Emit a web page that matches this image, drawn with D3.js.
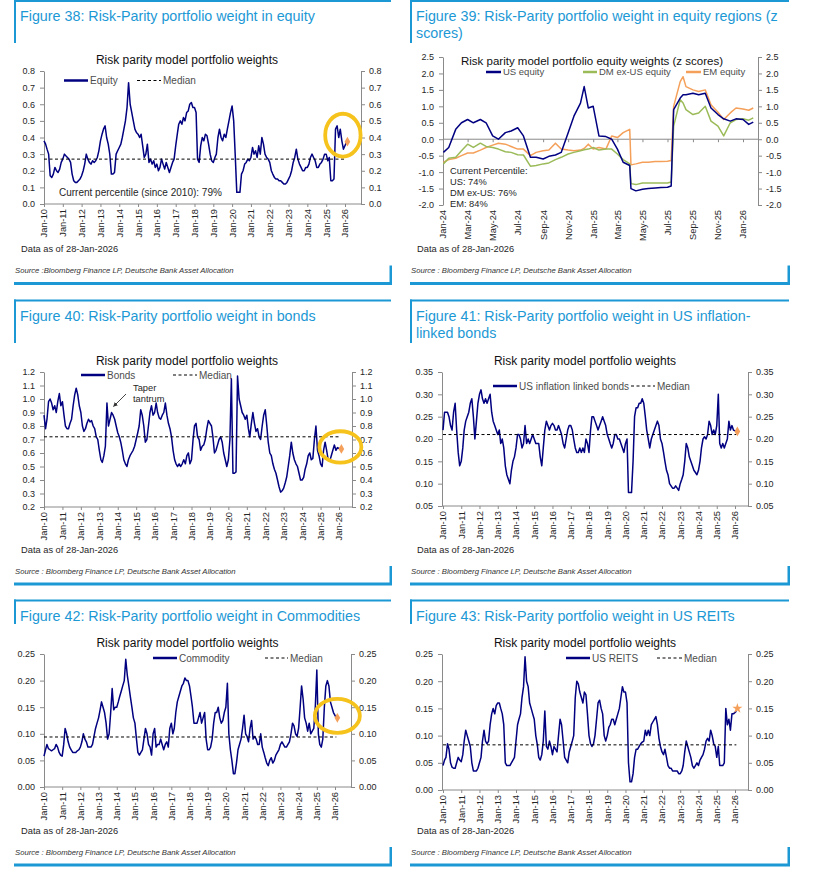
<!DOCTYPE html>
<html><head><meta charset="utf-8">
<script src="https://cdn.jsdelivr.net/npm/d3@7"></script>
<style>
body{margin:0;background:#fff;}
svg{display:block;font-family:"Liberation Sans",Arial,Helvetica,sans-serif;}
</style></head><body>
<script>
// ---------------- DATA ----------------
// Monthly readings Jan-2010 .. Dec-2025, then 28-Jan-2026
const equity = [
0.38,0.36,0.33,0.30,0.17,0.16,0.18,0.22,0.20,0.19,0.21,0.25,
0.27,0.30,0.29,0.28,0.27,0.25,0.18,0.14,0.13,0.13,0.14,0.15,
0.17,0.20,0.24,0.30,0.27,0.25,0.24,0.26,0.25,0.26,0.28,0.32,
0.38,0.42,0.45,0.47,0.40,0.36,0.30,0.18,0.18,0.19,0.30,0.32,
0.34,0.36,0.40,0.45,0.50,0.58,0.73,0.60,0.55,0.50,0.45,0.43,
0.42,0.40,0.42,0.35,0.28,0.30,0.36,0.25,0.27,0.24,0.26,0.22,
0.24,0.20,0.22,0.27,0.24,0.21,0.25,0.22,0.19,0.22,0.25,0.27,
0.35,0.42,0.48,0.50,0.48,0.52,0.50,0.55,0.56,0.60,0.61,0.58,
0.58,0.55,0.27,0.25,0.35,0.40,0.38,0.42,0.41,0.36,0.30,0.26,
0.25,0.28,0.30,0.40,0.45,0.40,0.38,0.42,0.40,0.45,0.50,0.55,
0.59,0.50,0.30,0.07,0.07,0.07,0.18,0.20,0.24,0.25,0.27,0.26,
0.28,0.34,0.30,0.32,0.28,0.35,0.30,0.40,0.36,0.30,0.28,0.27,
0.25,0.20,0.18,0.16,0.15,0.15,0.14,0.14,0.13,0.12,0.12,0.13,
0.15,0.17,0.20,0.25,0.28,0.33,0.27,0.24,0.22,0.20,0.20,0.22,
0.22,0.24,0.28,0.30,0.28,0.26,0.22,0.22,0.24,0.25,0.27,0.30,
0.30,0.26,0.28,0.14,0.14,0.15,0.45,0.47,0.40,0.45,0.38,0.33,
0.37];
const bonds = [
0.88,0.78,0.85,0.98,1.00,0.97,0.92,0.95,0.90,0.98,1.04,0.95,
0.98,0.88,0.80,0.78,0.78,0.82,0.85,0.95,1.03,1.08,1.03,0.95,
0.90,0.80,0.76,0.78,0.82,0.85,0.83,0.84,0.80,0.78,0.72,0.70,
0.62,0.55,0.53,0.58,0.65,0.97,0.80,0.85,0.90,0.88,0.85,0.80,
0.75,0.72,0.68,0.62,0.55,0.52,0.50,0.55,0.58,0.60,0.62,0.65,
0.70,0.75,0.80,0.92,0.88,0.80,0.68,0.70,0.80,0.90,0.95,0.88,
0.90,0.97,0.90,0.86,0.85,0.88,0.90,0.97,0.88,0.82,0.78,0.72,
0.62,0.55,0.52,0.50,0.52,0.50,0.52,0.55,0.52,0.58,0.60,0.52,
0.55,0.70,0.80,0.82,0.72,0.70,0.62,0.65,0.66,0.70,0.78,0.84,
0.82,0.80,0.72,0.60,0.62,0.66,0.70,0.72,0.68,0.60,0.55,0.50,
0.55,0.70,1.15,0.45,0.45,0.46,1.17,1.00,0.95,0.90,0.88,0.85,
0.88,0.78,0.72,0.82,0.90,0.82,0.76,0.78,0.72,0.70,0.80,0.88,
0.92,0.80,0.68,0.60,0.58,0.52,0.48,0.45,0.40,0.35,0.31,0.32,
0.34,0.38,0.42,0.50,0.58,0.68,0.60,0.55,0.52,0.50,0.45,0.40,
0.40,0.42,0.48,0.52,0.58,0.60,0.55,0.56,0.70,0.80,0.62,0.58,
0.52,0.50,0.62,0.68,0.62,0.55,0.54,0.58,0.62,0.66,0.62,0.64,
0.63];
const tips = [
0.22,0.26,0.26,0.26,0.25,0.23,0.22,0.26,0.28,0.22,0.17,0.14,
0.15,0.18,0.22,0.24,0.25,0.26,0.28,0.29,0.25,0.20,0.24,0.28,
0.30,0.31,0.29,0.28,0.29,0.28,0.29,0.30,0.26,0.24,0.23,0.22,
0.21,0.22,0.19,0.20,0.18,0.14,0.12,0.11,0.10,0.13,0.15,0.16,
0.18,0.21,0.21,0.20,0.18,0.19,0.23,0.19,0.20,0.19,0.20,0.21,
0.20,0.19,0.19,0.19,0.16,0.14,0.18,0.22,0.24,0.23,0.22,0.23,
0.235,0.23,0.22,0.22,0.23,0.22,0.21,0.19,0.18,0.20,0.22,0.23,
0.23,0.22,0.20,0.18,0.17,0.17,0.18,0.17,0.18,0.17,0.20,0.19,
0.17,0.22,0.25,0.25,0.24,0.23,0.22,0.23,0.24,0.25,0.24,0.23,
0.21,0.20,0.19,0.18,0.19,0.21,0.21,0.20,0.20,0.19,0.18,0.17,
0.19,0.20,0.08,0.08,0.08,0.15,0.25,0.27,0.27,0.28,0.28,0.29,
0.28,0.25,0.22,0.20,0.18,0.20,0.21,0.22,0.23,0.24,0.23,0.20,
0.19,0.17,0.15,0.13,0.12,0.10,0.095,0.09,0.09,0.095,0.09,0.085,
0.10,0.11,0.12,0.15,0.19,0.18,0.16,0.15,0.14,0.13,0.125,0.12,
0.13,0.15,0.18,0.20,0.205,0.20,0.21,0.24,0.23,0.21,0.22,0.21,
0.23,0.30,0.19,0.18,0.19,0.18,0.19,0.20,0.24,0.22,0.23,0.22,
0.217];
const commodity = [
0.058,0.07,0.08,0.072,0.07,0.068,0.07,0.072,0.08,0.075,0.065,0.06,
0.058,0.08,0.11,0.10,0.085,0.075,0.07,0.065,0.065,0.065,0.068,0.07,
0.075,0.085,0.10,0.09,0.085,0.075,0.075,0.075,0.08,0.095,0.11,0.12,
0.13,0.145,0.16,0.15,0.14,0.12,0.09,0.10,0.14,0.185,0.145,0.15,
0.15,0.16,0.17,0.18,0.19,0.20,0.24,0.21,0.19,0.17,0.15,0.13,
0.12,0.09,0.065,0.06,0.065,0.07,0.09,0.11,0.10,0.08,0.075,0.06,
0.10,0.11,0.075,0.08,0.08,0.09,0.08,0.07,0.08,0.085,0.075,0.11,
0.12,0.10,0.11,0.14,0.16,0.17,0.18,0.19,0.195,0.205,0.20,0.20,
0.19,0.17,0.15,0.12,0.12,0.12,0.13,0.14,0.12,0.13,0.14,0.09,
0.07,0.07,0.075,0.09,0.12,0.14,0.14,0.15,0.13,0.12,0.125,0.14,
0.15,0.195,0.10,0.07,0.05,0.025,0.025,0.045,0.07,0.08,0.09,0.11,
0.135,0.10,0.095,0.085,0.11,0.125,0.09,0.095,0.09,0.08,0.08,0.10,
0.075,0.065,0.055,0.045,0.04,0.05,0.055,0.045,0.05,0.06,0.065,0.07,
0.08,0.085,0.08,0.075,0.075,0.08,0.085,0.10,0.12,0.115,0.10,0.095,
0.11,0.15,0.19,0.165,0.13,0.12,0.105,0.12,0.10,0.105,0.11,0.15,
0.22,0.10,0.08,0.075,0.09,0.15,0.19,0.20,0.19,0.16,0.15,0.14,
0.13];
const reits = [
0.045,0.055,0.06,0.085,0.075,0.05,0.042,0.04,0.04,0.05,0.06,0.055,
0.052,0.065,0.09,0.11,0.10,0.09,0.08,0.05,0.035,0.035,0.035,0.04,
0.05,0.06,0.09,0.11,0.09,0.085,0.09,0.12,0.14,0.15,0.14,0.155,
0.16,0.16,0.15,0.14,0.12,0.05,0.045,0.045,0.045,0.05,0.055,0.06,
0.09,0.12,0.13,0.14,0.17,0.19,0.245,0.20,0.19,0.16,0.15,0.14,
0.13,0.10,0.085,0.06,0.055,0.065,0.09,0.145,0.08,0.075,0.09,0.08,
0.065,0.08,0.075,0.07,0.10,0.13,0.12,0.09,0.06,0.055,0.05,0.07,
0.08,0.09,0.10,0.17,0.20,0.195,0.18,0.17,0.16,0.18,0.175,0.14,
0.10,0.085,0.08,0.085,0.10,0.13,0.16,0.165,0.15,0.14,0.10,0.09,
0.10,0.115,0.12,0.13,0.13,0.12,0.13,0.14,0.15,0.17,0.19,0.18,
0.18,0.16,0.05,0.015,0.015,0.03,0.06,0.075,0.075,0.08,0.085,0.088,
0.09,0.11,0.10,0.11,0.10,0.12,0.125,0.13,0.135,0.12,0.095,0.08,
0.07,0.065,0.075,0.06,0.045,0.04,0.04,0.035,0.035,0.035,0.035,0.03,
0.03,0.035,0.045,0.07,0.09,0.08,0.07,0.06,0.045,0.04,0.045,0.05,
0.045,0.055,0.06,0.065,0.075,0.09,0.095,0.09,0.11,0.10,0.085,0.08,
0.06,0.08,0.045,0.045,0.045,0.05,0.15,0.12,0.13,0.11,0.14,0.14,
0.145];
const medians = {equity:0.27, bonds:0.72, tips:0.21, commodity:0.094, reits:0.083};
const latest = {equity:0.375, bonds:0.63, tips:0.217, commodity:0.13, reits:0.15};
const yearLabels = ["Jan-10","Jan-11","Jan-12","Jan-13","Jan-14","Jan-15","Jan-16","Jan-17","Jan-18","Jan-19","Jan-20","Jan-21","Jan-22","Jan-23","Jan-24","Jan-25","Jan-26"];

// Figure 39: z-scores, Jan-2024 .. Jan-2026
const zDates = ["2024-01-02","2024-01-15","2024-02-01","2024-02-15","2024-03-01","2024-03-15","2024-04-01","2024-04-15","2024-05-01","2024-05-15","2024-06-01","2024-06-15","2024-07-01","2024-07-15","2024-08-01","2024-08-15","2024-09-01","2024-09-15","2024-10-01","2024-10-15","2024-11-01","2024-11-15","2024-12-01","2024-12-10","2024-12-20","2025-01-01","2025-01-15","2025-02-01","2025-02-15","2025-03-01","2025-03-15","2025-03-31","2025-04-03","2025-04-15","2025-05-01","2025-05-15","2025-06-01","2025-06-15","2025-07-01","2025-07-10","2025-07-16","2025-08-01","2025-08-08","2025-08-15","2025-09-01","2025-09-15","2025-10-01","2025-10-15","2025-11-01","2025-11-15","2025-12-01","2025-12-15","2026-01-01","2026-01-15","2026-01-26"];
const zUS = [-0.40,-0.25,0.30,0.50,0.60,0.50,0.60,0.50,0.10,0.00,0.20,0.25,0.35,0.10,-0.55,-0.55,-0.60,-0.52,-0.48,-0.40,0.20,0.70,1.10,1.60,0.95,
1.00,0.10,0.08,0.00,-0.30,-0.70,-0.80,-1.50,-1.57,-1.52,-1.50,-1.48,-1.47,-1.46,-1.42,0.90,1.25,1.35,1.35,1.40,1.35,1.40,0.95,0.75,0.62,0.55,0.62,0.60,0.45,0.52];
const zDM = [-0.75,-0.58,-0.55,-0.35,-0.15,-0.25,-0.12,-0.22,-0.25,-0.30,-0.38,-0.40,-0.47,-0.48,-0.82,-0.80,-0.75,-0.72,-0.62,-0.55,-0.45,-0.40,-0.35,-0.32,-0.30,
-0.25,-0.33,-0.30,-0.30,-0.45,-0.62,-0.75,-1.35,-1.38,-1.33,-1.33,-1.33,-1.33,-1.33,-1.30,0.40,1.20,1.10,0.90,0.75,0.80,1.00,0.55,0.40,0.10,0.50,0.60,0.62,0.58,0.65];
const zEM = [-0.70,-0.62,-0.58,-0.50,-0.42,-0.42,-0.33,-0.25,-0.18,-0.12,-0.15,-0.22,-0.30,-0.30,-0.50,-0.40,-0.35,-0.33,-0.12,-0.30,-0.33,-0.35,-0.33,-0.28,-0.15,
-0.30,-0.25,-0.30,0.10,0.05,0.20,0.30,-0.78,-0.75,-0.70,-0.70,-0.68,-0.68,-0.67,-0.65,1.00,1.75,1.90,1.60,1.50,1.45,1.50,1.05,0.82,0.60,0.80,0.95,0.92,0.88,0.95];
const zTickLabels = ["Jan-24","Mar-24","May-24","Jul-24","Sep-24","Nov-24","Jan-25","Mar-25","May-25","Jul-25","Sep-25","Nov-25","Jan-26"];
const zPercentiles = ["Current Percentile:","US: 74%","DM ex-US: 76%","EM: 84%"];

// ---------------- STYLE ----------------
const BLUE="#1c98d5", NAVY="#000080", ORANGE="#f5a05a", GREEN="#9bbb59", YEL="#f6c21c", AX="#8a8a8a", TXT="#262626";
const FONT='"Liberation Sans",Arial,Helvetica,sans-serif';

const svg = d3.select("body").append("svg").attr("width",821).attr("height",877);
const monthDates = d3.timeMonth.range(new Date(2010,0,1), new Date(2026,0,1)).concat([new Date(2026,0,28)]);
const parseTick = d3.timeParse("%b-%y");
const yearTicks = yearLabels.map(parseTick);
const zTicks = zTickLabels.map(parseTick);
const parse = d3.timeParse("%Y-%m-%d");

function frame(f){
  const g = svg.append("g");
  g.append("rect").attr("x",f.x0).attr("y",f.top).attr("width",f.x1-f.x0).attr("height",2).attr("fill",BLUE);
  g.append("rect").attr("x",f.x0).attr("y",f.top).attr("width",2).attr("height",f.barB-f.top).attr("fill",BLUE);
  f.title.forEach((t,i)=>g.append("text").attr("x",f.x0+6).attr("y",f.tY+i*17).attr("font-size",14.3).attr("fill",BLUE).text(t));
  g.append("rect").attr("x",f.x0).attr("y",f.bot-1.5).attr("width",f.x1-f.x0+1).attr("height",3).attr("fill",BLUE);
  g.append("rect").attr("x",f.x1-1.5).attr("y",f.bot-18).attr("width",2.5).attr("height",19).attr("fill",BLUE);
  g.append("text").attr("x",f.x0+7).attr("y",f.bot-31.5).attr("font-size",9.3).attr("fill",TXT).text("Data as of 28-Jan-2026");
  g.append("text").attr("x",f.x0+1).attr("y",f.bot-10.5).attr("font-size",7.7).attr("font-style","italic").attr("fill","#333").text(f.src);
}

function styleAxis(sel){
  sel.attr("font-size",9).attr("font-family",FONT);
  sel.select(".domain").attr("stroke",AX);
  sel.selectAll(".tick line").attr("stroke",AX);
  sel.selectAll(".tick text").attr("fill",TXT);
}

function panel(p){
  const g = svg.append("g");
  const x = d3.scaleTime().domain(p.xDom).range(p.xRange);
  const y = d3.scaleLinear().domain(p.yDom).range([p.yBot,p.yTop]);
  g.append("g").attr("transform",`translate(${p.xL},0)`)
    .call(d3.axisLeft(y).tickValues(p.yTicks).tickFormat(p.fmt).tickSize(4).tickPadding(5).tickSizeOuter(0)).call(styleAxis);
  g.append("g").attr("transform",`translate(${p.xR},0)`)
    .call(d3.axisRight(y).tickValues(p.yTicks).tickFormat(p.fmt).tickSize(4).tickPadding(4).tickSizeOuter(0)).call(styleAxis);
  const y0 = y(p.xAxisAt);
  g.append("line").attr("x1",p.xL).attr("x2",p.xR).attr("y1",y0).attr("y2",y0).attr("stroke",AX);
  const xg = g.append("g").attr("transform",`translate(0,${y0})`)
    .call(d3.axisBottom(x).tickValues(p.xTicks).tickFormat(d3.timeFormat("%b-%y")).tickSize(3).tickSizeOuter(0)).call(styleAxis);
  xg.select(".domain").remove();
  xg.selectAll(".tick text").attr("transform",`translate(0,${p.yBot-y0}) rotate(-90)`)
    .attr("x",-5).attr("y",0).attr("dy","0.32em").attr("text-anchor","end").attr("font-size",9.3);
  // series
  p.series.forEach(s=>{
    const data = p.dates.map((d,i)=>({d, v:s.values[i]}));
    g.append("path").datum(data).attr("fill","none").attr("stroke",s.color).attr("stroke-width",1.5)
      .attr("stroke-linejoin","round").attr("d",d3.line().x(d=>x(d.d)).y(d=>y(d.v)));
  });
  if(p.median!=null){
    g.append("line").attr("x1",x(p.dates[0])).attr("x2",x(p.dates[p.dates.length-1]))
      .attr("y1",y(p.median)).attr("y2",y(p.median)).attr("stroke","#000").attr("stroke-width",1).attr("stroke-dasharray","3,2.5");
  }
  if(p.latest!=null){
    const lx = x(p.dates[p.dates.length-1])+1, ly=y(p.latest);
    g.append("path").attr("transform",`translate(${lx},${ly})`).attr("d",d3.symbol().type(p.sym||d3.symbolDiamond).size(p.symSize||28)()).attr("fill",ORANGE);
    if(p.ring){
      g.append("ellipse").attr("cx",lx+p.ring[0]).attr("cy",ly+p.ring[1]).attr("rx",p.ring[2]).attr("ry",p.ring[3])
        .attr("fill","none").attr("stroke",YEL).attr("stroke-width",3.8);
    }
  }
  // chart title
  g.append("text").attr("x",p.tX).attr("y",p.tY).attr("text-anchor","middle").attr("font-size",p.tSize||12).attr("fill","#111").text(p.chartTitle);
  // legend
  p.legend.forEach(L=>{
    const ln = g.append("line").attr("x1",L.x1).attr("x2",L.x2).attr("y1",L.y).attr("y2",L.y);
    if(L.dash) ln.attr("stroke","#000").attr("stroke-width",1).attr("stroke-dasharray","3,2.5");
    else ln.attr("stroke",L.color).attr("stroke-width",2.5);
    g.append("text").attr("x",L.x2+2).attr("y",L.y).attr("dy","0.35em").attr("font-size",L.fs||10).attr("fill","#4d4d4d").text(L.label);
  });
  return {g,x,y};
}
const f1 = d=>d.toFixed(1), f2 = d=>d.toFixed(2);
const src1 = "Source :Bloomberg Finance LP, Deutsche Bank Asset Allocation";
const src2 = "Source : Bloomberg Finance LP, Deutsche Bank Asset Allocation";

// ---------- Figure 38 ----------
frame({x0:14,x1:391,top:0,barB:43,bot:283.5,tY:20.5,title:["Figure 38: Risk-Parity portfolio weight in equity"],src:src1});
const P1 = panel({dates:monthDates,series:[{values:equity,color:NAVY}],median:medians.equity,latest:latest.equity,ring:[-4.5,-6.5,17.7,21.4],
  xDom:[new Date(2010,0,1),new Date(2026,0,1)],xRange:[44,345],xL:44,xR:361,yDom:[0,0.8],yBot:204,yTop:71,
  yTicks:d3.range(0,0.81,0.1),fmt:f1,xAxisAt:0,xTicks:yearTicks,tX:187,tY:64,chartTitle:"Risk parity model portfolio weights",
  legend:[{x1:64,x2:88,y:80.5,color:NAVY,label:"Equity"},{x1:137,x2:161,y:80.5,dash:true,label:"Median"}]});
P1.g.append("text").attr("x",59).attr("y",195.5).attr("font-size",10).attr("fill",TXT).text("Current percentile (since 2010): 79%");

// ---------- Figure 39 ----------
frame({x0:410,x1:789,top:0,barB:43,bot:283.5,tY:20.5,title:["Figure 39: Risk-Parity portfolio weight in equity regions (z","scores)"],src:src2});
const zd = zDates.map(parse);
const P2 = panel({dates:zd,series:[{values:zEM,color:ORANGE},{values:zDM,color:GREEN},{values:zUS,color:NAVY}],median:null,latest:null,
  xDom:[new Date(2024,0,1),new Date(2026,0,1)],xRange:[443,743],xL:443,xR:758,yDom:[-2,2.5],yBot:205,yTop:57,
  yTicks:d3.range(-2,2.51,0.5),fmt:f1,xAxisAt:0,xTicks:zTicks,
  tX:592,tY:65,tSize:11.5,chartTitle:"Risk parity model portfolio equity weights (z scores)",
  legend:[{x1:486,x2:501,y:72,color:NAVY,label:"US equity",fs:9.5},{x1:583,x2:597,y:72,color:GREEN,label:"DM ex-US equity",fs:9.5},{x1:686,x2:701,y:72,color:ORANGE,label:"EM equity",fs:9.5}]});
zPercentiles.forEach((t,i)=>P2.g.append("text").attr("x",450).attr("y",173.5+i*11).attr("font-size",9.3).attr("fill",TXT).text(t));

// ---------- Figure 40 ----------
frame({x0:14,x1:391,top:299.5,barB:343,bot:584,tY:320.5,title:["Figure 40: Risk-Parity portfolio weight in bonds"],src:src2});
const P3 = panel({dates:monthDates,series:[{values:bonds,color:NAVY}],median:medians.bonds,latest:latest.bonds,ring:[-1,-2,21,15.7],
  xDom:[new Date(2010,0,1),new Date(2026,0,1)],xRange:[44,339],xL:44,xR:352,yDom:[0.2,1.2],yBot:507,yTop:372,
  yTicks:d3.range(0.2,1.21,0.1),fmt:f1,xAxisAt:0.2,xTicks:yearTicks,tX:187,tY:365,chartTitle:"Risk parity model portfolio weights",
  legend:[{x1:81,x2:105,y:375,color:NAVY,label:"Bonds"},{x1:173,x2:197,y:375,dash:true,label:"Median"}]});
P3.g.append("text").attr("x",133).attr("y",390.5).attr("font-size",9.3).attr("fill",TXT).text("Taper");
P3.g.append("text").attr("x",133).attr("y",401.5).attr("font-size",9.3).attr("fill",TXT).text("tantrum");
svg.append("defs").append("marker").attr("id","ah").attr("viewBox","0 0 10 10").attr("refX",9).attr("refY",5)
  .attr("markerWidth",5).attr("markerHeight",5).attr("orient","auto").append("path").attr("d","M0,0L10,5L0,10z").attr("fill","#333");
P3.g.append("line").attr("x1",126).attr("y1",394).attr("x2",113.5).attr("y2",406.5).attr("stroke","#333").attr("stroke-width",0.9).attr("marker-end","url(#ah)");

// ---------- Figure 41 ----------
frame({x0:410,x1:789,top:299.5,barB:343,bot:584,tY:320.5,title:["Figure 41: Risk-Parity portfolio weight in US inflation-","linked bonds"],src:src2});
panel({dates:monthDates,series:[{values:tips,color:NAVY}],median:medians.tips,latest:latest.tips,
  xDom:[new Date(2010,0,1),new Date(2026,0,1)],xRange:[443,735],xL:442,xR:748,yDom:[0.05,0.35],yBot:506,yTop:372,
  yTicks:d3.range(0.05,0.351,0.05),fmt:f2,xAxisAt:0.05,xTicks:yearTicks,tX:585,tY:365,chartTitle:"Risk parity model portfolio weights",
  legend:[{x1:493,x2:517,y:386,color:NAVY,label:"US inflation linked bonds"},{x1:631,x2:655,y:386,dash:true,label:"Median"}]});

// ---------- Figure 42 ----------
frame({x0:14,x1:391,top:599.5,barB:624,bot:865,tY:621,title:["Figure 42: Risk-Parity portfolio weight in Commodities"],src:src2});
panel({dates:monthDates,series:[{values:commodity,color:NAVY}],median:medians.commodity,latest:latest.commodity,ring:[0,-2,22.5,17],
  xDom:[new Date(2010,0,1),new Date(2026,0,1)],xRange:[44,335],xL:44,xR:351,yDom:[0,0.25],yBot:787,yTop:654,
  yTicks:d3.range(0,0.251,0.05),fmt:f2,xAxisAt:0,xTicks:yearTicks,tX:187.5,tY:647,chartTitle:"Risk parity model portfolio weights",
  legend:[{x1:153,x2:177,y:658,color:NAVY,label:"Commodity"},{x1:265,x2:288,y:658,dash:true,label:"Median"}]});

// ---------- Figure 43 ----------
frame({x0:410,x1:789,top:599.5,barB:624,bot:865,tY:621,title:["Figure 43: Risk-Parity portfolio weight in US REITs"],src:src2});
panel({dates:monthDates,series:[{values:reits,color:NAVY}],median:medians.reits,latest:latest.reits,sym:d3.symbolStar,symSize:32,
  xDom:[new Date(2010,0,1),new Date(2026,0,1)],xRange:[443,735],xL:442,xR:748,yDom:[0,0.25],yBot:790,yTop:654,
  yTicks:d3.range(0,0.251,0.05),fmt:f2,xAxisAt:0,xTicks:yearTicks,tX:585,tY:647,chartTitle:"Risk parity model portfolio weights",
  legend:[{x1:566,x2:590,y:658,color:NAVY,label:"US REITS"},{x1:657,x2:682,y:658,dash:true,label:"Median"}]});
</script></body></html>
